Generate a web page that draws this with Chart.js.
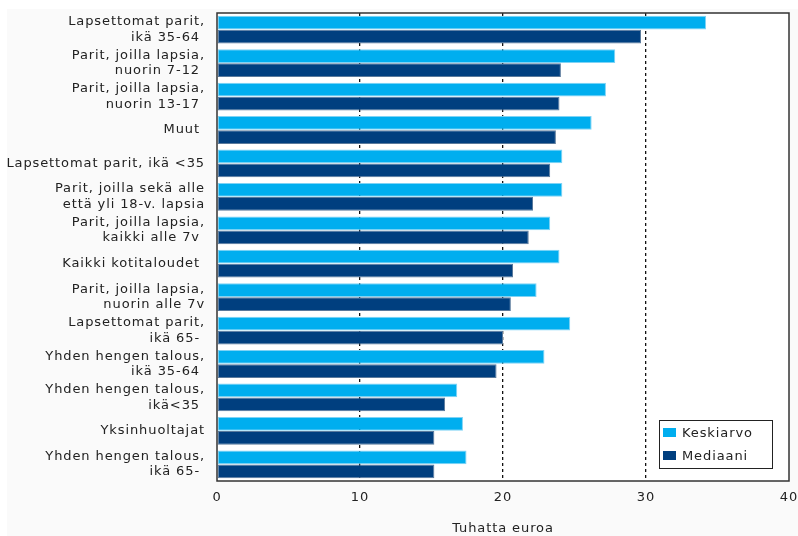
<!DOCTYPE html>
<html>
<head>
<meta charset="utf-8">
<script src="https://cdn.jsdelivr.net/npm/chart.js@4/dist/chart.umd.min.js"></script>
<style>
  html, body { margin: 0; padding: 0; background: #ffffff; }
  #wrap { width: 798px; height: 536px; position: relative; }
</style>
</head>
<body>
<div id="wrap"><canvas id="c" width="798" height="536"></canvas></div>
<script>
const categories = [
  ["Lapsettomat parit,", "ikä 35-64 "],
  ["Parit, joilla lapsia,", "nuorin 7-12 "],
  ["Parit, joilla lapsia,", "nuorin 13-17 "],
  ["Muut "],
  ["Lapsettomat parit, ikä <35"],
  ["Parit, joilla sekä alle", "että yli 18-v. lapsia"],
  ["Parit, joilla lapsia,", "kaikki alle 7v "],
  ["Kaikki kotitaloudet "],
  ["Parit, joilla lapsia,", "nuorin alle 7v"],
  ["Lapsettomat parit,", "ikä 65- "],
  ["Yhden hengen talous,", "ikä 35-64 "],
  ["Yhden hengen talous,", "ikä<35 "],
  ["Yksinhuoltajat"],
  ["Yhden hengen talous,", "ikä 65- "]
];
const keskiarvo = [34.2, 27.85, 27.2, 26.2, 24.15, 24.15, 23.3, 23.95, 22.35, 24.7, 22.9, 16.8, 17.2, 17.45];
const mediaani  = [29.65, 24.05, 23.95, 23.7, 23.3, 22.1, 21.8, 20.7, 20.55, 20.0, 19.55, 15.95, 15.2, 15.2];
const seriesNames = ["Keskiarvo", "Mediaani"];
const xTicks = [0, 10, 20, 30, 40];
const axisTitle = "Tuhatta euroa";

const FONT = "'DejaVu Sans', Verdana, sans-serif";
const SPACING = '0.9px';

const framePlugin = {
  id: 'frame',
  beforeUpdate(chart) { chart.ctx.letterSpacing = SPACING; },
  beforeLayout(chart) { chart.ctx.letterSpacing = SPACING; },
  beforeDraw(chart) {
    const ctx = chart.ctx, a = chart.chartArea;
    ctx.letterSpacing = SPACING;
    ctx.save();
    ctx.fillStyle = '#ffffff';
    ctx.fillRect(0, 0, chart.width, chart.height);
    ctx.fillStyle = '#fafafa';
    ctx.fillRect(7, 9, chart.width - 7, chart.height - 9);
    ctx.fillStyle = '#ffffff';
    ctx.fillRect(a.left, a.top, a.right - a.left, a.bottom - a.top);
    ctx.restore();
  },
  afterDatasetsDraw(chart) {
    const ctx = chart.ctx, a = chart.chartArea;
    ctx.save();
    ctx.strokeStyle = '#333333';
    ctx.lineWidth = 1.5;
    ctx.strokeRect(a.left, a.top, a.right - a.left, a.bottom - a.top);
    // legend box inside plot area, bottom-right
    const bx = 659, by = 420, bw = 113, bh = 48;
    ctx.fillStyle = '#ffffff';
    ctx.fillRect(bx, by, bw, bh);
    ctx.strokeStyle = '#222222';
    ctx.lineWidth = 1;
    ctx.strokeRect(bx + 0.5, by + 0.5, bw, bh);
    ctx.font = "13px " + FONT;
    ctx.textBaseline = 'middle';
    ctx.textAlign = 'left';
    chart.data.datasets.forEach((ds, i) => {
      const y = by + 13 + i * 23;
      ctx.fillStyle = ds.backgroundColor;
      ctx.fillRect(bx + 4, y - 5, 13, 9);
      ctx.fillStyle = '#222222';
      ctx.fillText(ds.label, bx + 23, y + 1);
    });
    ctx.restore();
  }
};

new Chart(document.getElementById('c'), {
  type: 'bar',
  data: {
    labels: categories,
    datasets: [
      { label: seriesNames[0], data: keskiarvo, backgroundColor: '#00aeef', borderColor: '#7fd3f5', borderWidth: 1, borderSkipped: false },
      { label: seriesNames[1], data: mediaani, backgroundColor: '#003f7f', borderColor: '#5a7a9c', borderWidth: 1, borderSkipped: false }
    ]
  },
  options: {
    indexAxis: 'y',
    responsive: false,
    animation: false,
    devicePixelRatio: 1,
    layout: { padding: { top: 13, right: 9, left: 0, bottom: 0 } },
    datasets: { bar: { categoryPercentage: 0.84, barPercentage: 0.98 } },
    plugins: { legend: { display: false }, tooltip: { enabled: false } },
    scales: {
      x: {
        min: 0, max: 40,
        afterBuildTicks(scale) { scale.ticks = xTicks.map(v => ({ value: v })); },
        afterFit(scale) { scale.height = 55; scale.paddingLeft = 0; scale.paddingRight = 0; },
        grid: {
          color: (c) => (c.tick && (c.tick.value === 0 || c.tick.value === 40)) ? 'rgba(0,0,0,0)' : '#111111',
          lineWidth: 1.3,
          drawTicks: false
        },
        border: { display: false, dash: [3, 3] },
        ticks: { color: '#222222', font: { family: FONT, size: 13 }, padding: 9, maxRotation: 0 },
        title: { display: true, text: axisTitle, color: '#222222', font: { family: FONT, size: 13 }, padding: { top: 7, bottom: 0 } }
      },
      y: {
        afterFit(scale) { scale.width = 217; scale.paddingTop = 0; scale.paddingBottom = 0; },
        border: { display: false },
        grid: { display: false, drawTicks: false },
        ticks: { color: '#222222', font: { family: FONT, size: 13, lineHeight: 1.2 }, padding: 12, autoSkip: false }
      }
    }
  },
  plugins: [framePlugin]
});
</script>
</body>
</html>
